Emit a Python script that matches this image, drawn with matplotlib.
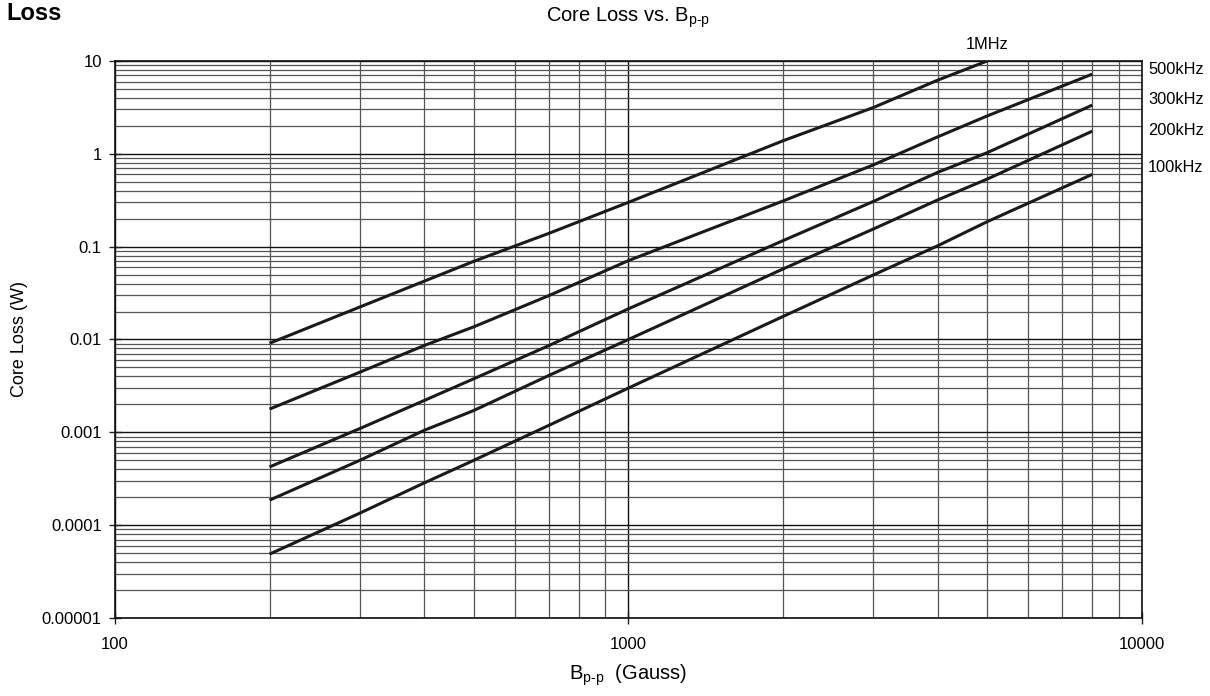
"""
Core loss vs. Bp-p, log-log chart
"""
import matplotlib
matplotlib.use('Agg')
import matplotlib.pyplot as plt
import matplotlib.transforms as mtransforms
from matplotlib.ticker import LogLocator, FixedFormatter, NullFormatter

# Flux density points (Gauss)
b_pp = [200, 300, 400, 500, 700, 1000, 2000, 3000, 4000, 5000, 8000]

# Core loss (W)
loss_1mhz = [0.0091, 0.0224, 0.0424, 0.0695, 0.139, 0.30, 1.38, 3.15, 6.2, 10.0]
loss_500k = [0.00178, 0.00445, 0.0086, 0.0137, 0.0297, 0.0707, 0.31, 0.76, 1.52, 2.56, 7.2]
loss_300k = [0.000424, 0.0011, 0.0022, 0.00378, 0.0086, 0.0214, 0.116, 0.307, 0.63, 1.03, 3.34]
loss_200k = [0.000186, 0.0005, 0.00105, 0.00172, 0.0041, 0.0100, 0.0575, 0.155, 0.318, 0.535, 1.75]
loss_100k = [0.0000488, 0.000135, 0.000285, 0.0005, 0.00119, 0.0030, 0.0177, 0.0496, 0.102, 0.186, 0.60]

series = [loss_1mhz, loss_500k, loss_300k, loss_200k, loss_100k]

# Curve labels at right side
right_labels = ['500kHz', '300kHz', '200kHz', '100kHz']
right_label_y = [8.06, 3.81, 1.77, 0.71]

y_ticks = [0.00001, 0.0001, 0.001, 0.01, 0.1, 1, 10]
y_ticklabels = ['0.00001', '0.0001', '0.001', '0.01', '0.1', '1', '10']
x_ticks = [100, 1000, 10000]
x_ticklabels = ['100', '1000', '10000']

plt.rcParams['font.family'] = ['Liberation Sans', 'DejaVu Sans']
plt.rcParams['mathtext.fontset'] = 'custom'
plt.rcParams['mathtext.rm'] = 'Liberation Sans'
plt.rcParams['mathtext.it'] = 'Liberation Sans'

fig = plt.figure(figsize=(12.1, 6.96), dpi=100)
ax = fig.add_axes([0.095, 0.112, 0.8488, 0.8005])

for s in series:
    ax.plot(b_pp[:len(s)], s, color='#1a1a1a', lw=2.2, solid_capstyle='butt', zorder=3)

ax.set_xscale('log')
ax.set_yscale('log')
ax.set_xlim(100, 10000)
ax.set_ylim(0.00001, 10)

ax.set_xticks(x_ticks)
ax.xaxis.set_major_formatter(FixedFormatter(x_ticklabels))
ax.set_yticks(y_ticks)
ax.yaxis.set_major_formatter(FixedFormatter(y_ticklabels))
ax.xaxis.set_minor_locator(LogLocator(base=10, subs=range(2, 10)))
ax.yaxis.set_minor_locator(LogLocator(base=10, subs=range(2, 10)))
ax.xaxis.set_minor_formatter(NullFormatter())
ax.yaxis.set_minor_formatter(NullFormatter())

ax.grid(True, which='major', color='#111111', lw=1.0)
ax.grid(True, which='minor', color='#555555', lw=0.9)
ax.tick_params(which='major', direction='inout', length=9, width=1, labelsize=12, color='#222222')
ax.tick_params(axis='x', which='major', pad=9)
ax.tick_params(axis='y', which='major', pad=5)
ax.tick_params(which='minor', length=0)
for sp in ax.spines.values():
    sp.set_color('#111111')
    sp.set_linewidth(1.2)

ax.set_ylabel('Core Loss (W)', fontsize=13, labelpad=10)
ax.set_xlabel(r'B$_{\mathregular{p\text{-}p}}$  (Gauss)', fontsize=14.5, labelpad=8)
ax.set_title(r'Core Loss vs. B$_{\mathregular{p\text{-}p}}$', fontsize=14.5, pad=28)

# curve labels
trans = mtransforms.blended_transform_factory(ax.transAxes, ax.transData)
for lab, yv in zip(right_labels, right_label_y):
    ax.text(1.006, yv, lab, transform=trans, fontsize=11.8, va='center', ha='left', clip_on=False)
ax.text(b_pp[len(loss_1mhz) - 1], 14.9, '1MHz', fontsize=11.8, va='center', ha='center', clip_on=False)

fig.text(0.005, 0.997, 'Loss', fontsize=17, fontweight='bold', va='top', ha='left',
         family=['Liberation Sans Narrow', 'Liberation Sans', 'DejaVu Sans'])

plt.savefig('out.png', dpi=100)
